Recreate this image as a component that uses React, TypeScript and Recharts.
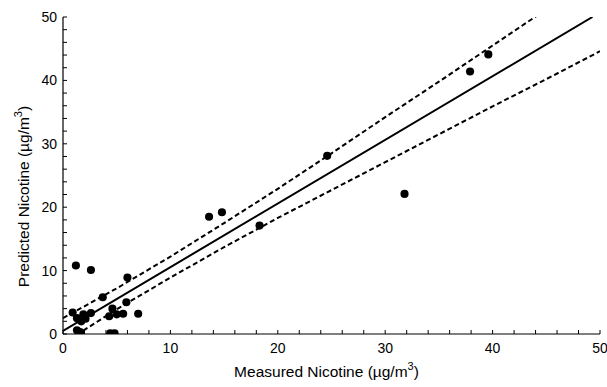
import React from 'react';
import { ComposedChart, Scatter, Line, XAxis, YAxis, ZAxis, Label } from 'recharts';

const measuredX = [1.2, 2.6, 6.0, 3.7, 5.9, 4.6, 4.3, 5.0, 5.6, 7.0, 4.4, 4.8, 0.9, 1.3, 1.7, 1.9, 2.1, 2.6, 1.3, 1.6, 13.6, 14.8, 18.3, 24.6, 31.8, 37.9, 39.6];
const predictedY = [10.8, 10.1, 8.9, 5.8, 5.0, 4.0, 2.8, 3.1, 3.2, 3.2, 0.1, 0.1, 3.4, 2.5, 2.0, 3.1, 2.4, 3.3, 0.6, 0.3, 18.5, 19.2, 17.1, 28.1, 22.1, 41.4, 44.1];

const fitX = [0, 49.3];
const fitY = [0.5, 50];

const bandX = [0, 5, 10, 15, 20, 25, 30, 35, 40, 45, 50];
const upperY = [2.5, 7.2, 12.2, 17.5, 22.9, 28.5, 34.2, 39.8, 45.5, 51.2, 56.9];
const lowerY = [-1.5, 3.9, 8.9, 13.7, 18.3, 22.7, 27.1, 31.5, 35.9, 40.2, 44.6];

const tickValues = [0, 2, 4, 6, 8, 10, 12, 14, 16, 18, 20, 22, 24, 26, 28, 30, 32, 34, 36, 38, 40, 42, 44, 46, 48, 50];

const points = measuredX.map((x, i) => ({ x, y: predictedY[i] }));
const fitData = fitX.map((x, i) => ({ x, y: fitY[i] }));
const upperData = bandX.map((x, i) => ({ x, y: upperY[i] }));
const lowerData = bandX.map((x, i) => ({ x, y: lowerY[i] }));

const FONT = '"Liberation Sans", Arial, Helvetica, sans-serif';
const TICK_LEN = 4;

const BottomTick = (props: any) => {
  const { x, y, payload } = props;
  const v = payload.value;
  return (
    <g>
      <line x1={x} x2={x} y1={y} y2={y - TICK_LEN} stroke="#000" strokeWidth={1} />
      {v % 10 === 0 && (
        <text x={x} y={y + 19} textAnchor="middle" fontSize={14} fontFamily={FONT} fill="#000">{v}</text>
      )}
    </g>
  );
};

const TopTick = (props: any) => {
  const { x, y } = props;
  return <line x1={x} x2={x} y1={y} y2={y + TICK_LEN} stroke="#000" strokeWidth={1} />;
};

const LeftTick = (props: any) => {
  const { x, y, payload } = props;
  const v = payload.value;
  return (
    <g>
      <line x1={x} x2={x + TICK_LEN} y1={y} y2={y} stroke="#000" strokeWidth={1} />
      {v % 10 === 0 && (
        <text x={x - 6} y={y + 5} textAnchor="end" fontSize={14} fontFamily={FONT} fill="#000">{v}</text>
      )}
    </g>
  );
};

const RightTick = (props: any) => {
  const { x, y } = props;
  return <line x1={x} x2={x - TICK_LEN} y1={y} y2={y} stroke="#000" strokeWidth={1} />;
};

const YTitle = (props: any) => {
  const vb = props.viewBox;
  const cx = vb.x + 29;
  const cy = vb.y + vb.height / 2 + 21;
  return (
    <text x={cx} y={cy} transform={`rotate(-90, ${cx}, ${cy})`} textAnchor="middle" fontSize={15.5} fontFamily={FONT} fill="#000">
      Predicted Nicotine (µg/m<tspan fontSize={11} dy={-7}>3</tspan><tspan dy={7}>)</tspan>
    </text>
  );
};

const XTitle = (props: any) => {
  const vb = props.viewBox;
  const cx = vb.x + vb.width / 2 - 5;
  return (
    <text x={cx} y={377} textAnchor="middle" fontSize={15.5} fontFamily={FONT} fill="#000">
      Measured Nicotine (µg/m<tspan fontSize={11} dy={-7}>3</tspan><tspan dy={7}>)</tspan>
    </text>
  );
};

export default function App() {
  return (
    <div style={{ position: 'absolute', left: 0, top: 0, width: 607, height: 387, background: '#fff' }}>
      <ComposedChart width={607} height={387} margin={{ top: 17, right: 7, bottom: 0, left: 0 }}>
        <XAxis
          xAxisId="b"
          dataKey="x"
          type="number"
          domain={[0, 50]}
          ticks={tickValues}
          interval={0}
          allowDataOverflow
          height={53}
          tickSize={0}
          tickMargin={0}
          tickLine={false}
          axisLine={{ stroke: '#000', strokeWidth: 1.2 }}
          tick={<BottomTick />}
          label={<Label content={<XTitle />} />}
        />
        <XAxis
          xAxisId="t"
          orientation="top"
          type="number"
          dataKey="x"
          domain={[0, 50]}
          ticks={tickValues}
          interval={0}
          allowDataOverflow
          height={0}
          tickSize={0}
          tickMargin={0}
          tickLine={false}
          axisLine={{ stroke: '#000', strokeWidth: 1.2 }}
          tick={<TopTick />}
        />
        <YAxis
          yAxisId="l"
          type="number"
          domain={[0, 50]}
          ticks={tickValues}
          interval={0}
          allowDataOverflow
          width={63}
          tickSize={0}
          tickMargin={0}
          tickLine={false}
          axisLine={{ stroke: '#000', strokeWidth: 1.2 }}
          tick={<LeftTick />}
          label={<Label content={<YTitle />} />}
        />
        <YAxis
          yAxisId="r"
          orientation="right"
          type="number"
          domain={[0, 50]}
          ticks={tickValues}
          interval={0}
          allowDataOverflow
          width={0}
          tickSize={0}
          tickMargin={0}
          tickLine={false}
          axisLine={{ stroke: '#000', strokeWidth: 1.2 }}
          tick={<RightTick />}
        />
        <ZAxis range={[52, 52]} />
        <Line xAxisId="b" yAxisId="l" data={upperData} dataKey="y" stroke="#000" strokeWidth={2} strokeDasharray="5 3" dot={false} isAnimationActive={false} type="linear" />
        <Line xAxisId="b" yAxisId="l" data={lowerData} dataKey="y" stroke="#000" strokeWidth={2} strokeDasharray="5 3" dot={false} isAnimationActive={false} type="linear" />
        <Line xAxisId="b" yAxisId="l" data={fitData} dataKey="y" stroke="#000" strokeWidth={2} dot={false} isAnimationActive={false} type="linear" />
        <Scatter xAxisId="b" yAxisId="l" data={points} dataKey="y" fill="#000" isAnimationActive={false} />
      </ComposedChart>
    </div>
  );
}
